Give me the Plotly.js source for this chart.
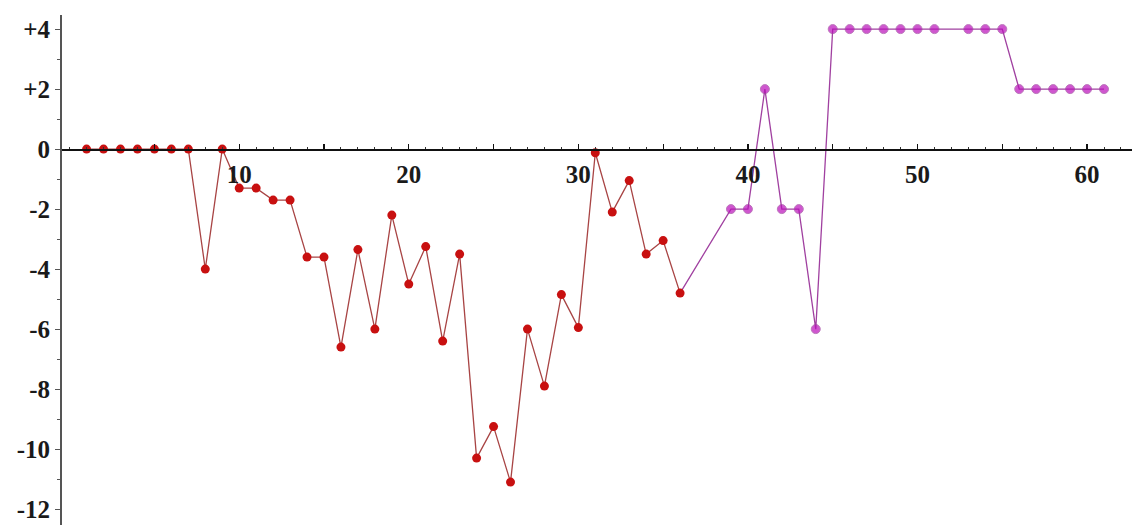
<!DOCTYPE html>
<html>
<head>
<meta charset="utf-8">
<script src="https://cdn.plot.ly/plotly-3.0.1.min.js"></script>
<style>html,body{margin:0;padding:0;background:#fff;}#chart{width:1132px;height:530px;}</style>
</head>
<body>
<div id="chart"></div>
<script>
// Red series
const redX = [1,2,3,4,5,6,7,8,9,10,11,12,13,14,15,16,17,18,19,20,21,22,23,24,25,26,27,28,29,30,31,32,33,34,35,36];
const redY = [0,0,0,0,0,0,0,-4,0,-1.3,-1.3,-1.7,-1.7,-3.6,-3.6,-6.6,-3.35,-6.0,-2.2,-4.5,-3.25,-6.4,-3.5,-10.3,-9.25,-11.1,-6.0,-7.9,-4.85,-5.95,-0.12,-2.1,-1.05,-3.5,-3.05,-4.8];
// Magenta series (starts at the last red point)
const magX = [36,39,40,41,42,43,44,45,46,47,48,49,50,51,53,54,55,56,57,58,59,60,61];
const magY = [-4.8,-2,-2,2,-2,-2,-6,4,4,4,4,4,4,4,4,4,4,2,2,2,2,2,2];
const magMarkerShow = [false,true,true,true,true,true,true,true,true,true,true,true,true,true,true,true,true,true,true,true,true,true,true];
// Tick labels
const xTickVals = [5,10,15,20,25,30,35,40,45,50,55,60];
const xTickText = ['','10','','20','','30','','40','','50','','60'];
const yTickVals = [4,2,0,-2,-4,-6,-8,-10,-12];
const yTickText = ['+4','+2','0','-2','-4','-6','-8','-10','-12'];

const yRange = [-12.53, 4.47];
const xRange = [-0.45, 62.65];
const zeroPos = (0 - yRange[0]) / (yRange[1] - yRange[0]);

const tickFont = {family: 'Liberation Serif', size: 25, color: '#1a1a1a', weight: 'bold'};

const traces = [
  {
    x: magX, y: magY, mode: 'lines+markers', type: 'scatter',
    line: {color: '#a040a0', width: 1.3},
    marker: {color: '#bb10bb', size: magMarkerShow.map(s => s ? 9 : 0)},
    hoverinfo: 'x+y'
  },
  {
    x: redX, y: redY, mode: 'lines+markers', type: 'scatter',
    line: {color: '#a84444', width: 1.3},
    marker: {color: '#c81010', size: 9},
    hoverinfo: 'x+y'
  }
];

const layout = {
  width: 1132, height: 530,
  margin: {l: 62, r: 0, t: 15, b: 5},
  paper_bgcolor: '#fff', plot_bgcolor: '#fff',
  showlegend: false,
  xaxis: {
    range: xRange,
    anchor: 'free', position: zeroPos,
    showgrid: false, zeroline: false,
    showline: true, linecolor: '#111', linewidth: 1.5,
    tickmode: 'array', tickvals: xTickVals, ticktext: xTickText,
    ticks: 'inside', ticklen: 5, tickcolor: '#111', tickwidth: 1.2,
    minor: {dtick: 1, ticks: 'inside', ticklen: 2.5, tickcolor: '#333', tickwidth: 1, showgrid: false},
    tickfont: tickFont,
    ticklabelstandoff: 2
  },
  yaxis: {
    range: yRange,
    showgrid: false, zeroline: false,
    showline: true, linecolor: '#555', linewidth: 2,
    tickmode: 'array', tickvals: yTickVals, ticktext: yTickText,
    ticks: 'outside', ticklen: 5, tickcolor: '#555', tickwidth: 1.2,
    minor: {dtick: 1, ticks: 'outside', ticklen: 3, tickcolor: '#555', tickwidth: 1, showgrid: false},
    tickfont: tickFont,
    ticklabelstandoff: 0
  }
};

Plotly.newPlot('chart', traces, layout, {displayModeBar: false, staticPlot: true});
</script>
</body>
</html>
